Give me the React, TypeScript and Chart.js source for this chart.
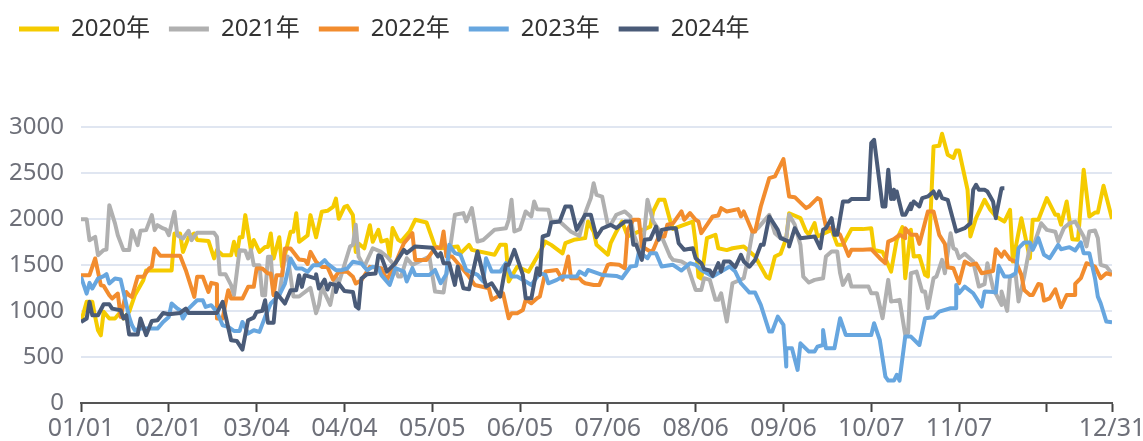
import React, { useEffect, useRef } from "react";
import { Chart, registerables } from "chart.js";

Chart.register(...registerables);

// [day of year index, value]
const series2020 = [[0,880],[2,1098],[4,1098],[5,935],[6,790],[7,735],[8,990],[10,917],[12,917],[14,990],[15,917],[17,990],[19,1170],[22,1333],[23,1440],[32,1440],[33,1840],[35,1840],[36,1640],[38,1800],[40,1840],[41,1770],[45,1760],[47,1570],[48,1660],[50,1605],[53,1605],[54,1750],[55,1605],[56,1800],[57,1800],[58,2040],[60,1660],[61,1770],[63,1640],[65,1695],[66,1695],[67,1840],[68,1570],[70,1800],[71,1480],[74,1860],[75,1860],[76,2060],[77,1750],[80,1820],[81,2040],[83,1800],[85,2076],[87,2087],[89,2130],[90,2220],[91,2000],[93,2130],[94,2140],[96,2040],[97,1640],[98,1730],[100,1680],[102,1930],[103,1750],[105,1880],[106,1753],[108,1772],[109,1590],[110,1900],[112,1772],[113,1753],[116,1862],[118,1989],[122,1960],[125,1700],[127,1680],[133,1700],[134,1625],[137,1717],[138,1663],[146,1610],[148,1717],[150,1717],[151,1320],[154,1480],[158,1425],[162,1640],[164,1752],[166,1717],[170,1625],[171,1735],[174,1772],[178,1790],[179,1970],[181,1860],[182,1717],[186,1610],[187,1735],[189,1860],[191,1970],[193,1810],[201,1915],[202,2080],[204,2206],[206,2206],[208,1980],[209,1890],[216,1970],[217,1735],[218,1370],[219,1350],[221,1790],[224,1827],[225,1680],[228,1660],[230,1680],[234,1700],[238,1590],[242,1370],[243,1350],[245,1590],[247,1620],[249,1790],[250,2060],[254,2008],[256,1863],[257,1827],[259,1953],[260,1808],[265,1880],[267,1717],[269,1717],[272,1888],[276,1888],[279,1898],[280,1663],[283,1640],[286,1427],[288,1771],[290,1909],[291,1355],[293,1880],[294,1590],[296,1597],[298,1391],[299,1373],[301,2786],[303,2793],[304,2924],[306,2695],[308,2660],[309,2741],[310,2741],[313,2315],[314,1808],[316,2007],[319,2206],[321,2098],[323,2025],[326,1970],[328,2098],[329,1536],[332,2007],[335,1572],[336,1989],[338,1989],[341,2225],[344,2043],[345,2043],[346,1936],[348,2188],[350,1779],[352,1772],[354,2533],[356,2025],[358,2068],[359,2068],[361,2358],[364,2000]];

const series2021 = [[0,1996],[2,1996],[3,1768],[5,1804],[6,1605],[8,1660],[9,1667],[10,2148],[12,1950],[13,1822],[15,1660],[17,1660],[18,1877],[20,1714],[21,1870],[23,1877],[25,2040],[26,1877],[27,1931],[29,1895],[30,1884],[31,1822],[33,2076],[34,1822],[36,1786],[38,1870],[39,1768],[41,1848],[47,1848],[48,1804],[49,1399],[51,1399],[53,1279],[54,1170],[56,1660],[58,1652],[59,1569],[60,1660],[61,1496],[63,1496],[64,1170],[65,1170],[66,1587],[67,1587],[68,1174],[70,1174],[72,1590],[73,1590],[75,1156],[77,1156],[81,1250],[83,975],[84,1065],[85,1264],[88,1065],[90,1373],[91,1300],[95,1699],[96,1717],[97,1935],[98,1590],[100,1480],[103,1680],[106,1640],[108,1591],[110,1518],[112,1373],[113,1373],[115,1572],[117,1500],[123,1591],[125,1210],[128,1199],[129,1400],[132,2044],[135,2062],[136,1971],[138,2116],[140,1753],[142,1770],[146,1880],[150,1897],[151,1989],[152,2207],[153,1862],[155,1888],[157,2080],[159,2025],[160,2188],[161,2105],[165,2098],[166,1971],[169,1971],[173,1860],[176,1815],[178,2062],[180,2225],[181,2387],[182,2260],[184,2241],[186,1934],[187,1934],[189,2044],[192,2080],[194,2025],[195,1844],[198,1591],[200,2207],[202,1971],[204,1880],[208,1591],[209,1554],[212,1536],[214,1500],[217,1228],[219,1228],[220,1355],[222,1337],[224,1120],[225,1120],[226,1192],[228,884],[230,1300],[234,1355],[235,1500],[237,1844],[239,1899],[243,2043],[245,1844],[247,1790],[249,1790],[250,2043],[252,1935],[254,1717],[255,1373],[257,1308],[259,1337],[262,1355],[263,1590],[265,1645],[267,1645],[268,1410],[269,1282],[271,1391],[272,1264],[278,1264],[279,1192],[281,1192],[283,920],[285,1337],[286,1101],[289,1120],[291,739],[292,760],[293,1409],[295,1427],[297,1210],[298,1210],[299,1029],[301,1355],[302,1373],[304,1554],[305,1409],[307,1844],[308,1681],[309,1663],[310,1572],[312,1620],[315,1536],[317,1264],[319,1290],[320,1518],[322,1246],[325,1065],[325,1210],[327,1000],[328,1373],[330,1390],[331,1101],[333,1373],[335,1700],[336,1680],[339,1952],[341,1880],[344,1860],[345,1754],[347,1899],[349,1952],[351,1970],[354,1808],[355,1700],[356,1862],[358,1873],[359,1790],[360,1500],[362,1482],[364,1402]];

const series2022 = [[0,1388],[3,1388],[5,1569],[7,1279],[8,1272],[10,1170],[11,1134],[13,1188],[14,935],[16,1206],[17,1170],[18,1152],[20,1370],[22,1370],[24,1460],[25,1478],[26,1677],[28,1598],[35,1598],[37,1442],[40,1152],[41,1370],[43,1370],[45,1206],[46,1304],[48,1290],[48,917],[50,917],[51,1080],[52,1225],[53,1134],[57,1134],[59,1261],[61,1261],[62,1460],[64,1460],[66,1406],[67,1406],[68,1170],[69,1388],[71,1388],[72,1677],[74,1677],[77,1558],[79,1551],[80,1510],[81,1641],[83,1533],[85,1478],[87,1478],[89,1340],[91,1424],[94,1424],[96,1370],[97,1297],[99,1333],[102,1478],[106,1464],[108,1337],[111,1518],[114,1735],[117,1844],[118,1554],[122,1554],[125,1685],[127,1685],[128,1862],[129,1590],[131,1590],[137,1373],[139,1282],[144,1246],[145,1120],[147,1155],[149,1191],[151,920],[152,975],[154,975],[156,1010],[157,1120],[159,1083],[161,1137],[162,1155],[164,1427],[168,1445],[170,1337],[172,1590],[173,1355],[176,1355],[177,1319],[178,1300],[181,1282],[183,1282],[186,1500],[187,1510],[190,1500],[192,1464],[193,1880],[195,1989],[197,1989],[198,1700],[201,1645],[202,1660],[204,1808],[206,1808],[207,1935],[209,1950],[212,2080],[213,1989],[215,2062],[217,1989],[218,1970],[219,1844],[221,1935],[223,2025],[225,2035],[226,2116],[228,2080],[232,2105],[233,2025],[234,2080],[237,1862],[238,1862],[240,2133],[243,2442],[245,2460],[248,2648],[250,2243],[252,2235],[256,2116],[257,2133],[260,2225],[261,2210],[263,1916],[266,1880],[268,1826],[271,1598],[272,1663],[276,1663],[279,1670],[282,1572],[284,1518],[285,1753],[287,1779],[289,1826],[291,1790],[291,1898],[293,1826],[295,1826],[296,1728],[299,2079],[301,2079],[303,1826],[305,1728],[306,1474],[308,1463],[310,1300],[312,1536],[314,1500],[316,1515],[318,1409],[321,1427],[322,1434],[323,1670],[325,1590],[326,1644],[328,1561],[330,1536],[332,1391],[333,1228],[335,1173],[336,1173],[338,1293],[339,1285],[340,1112],[342,1137],[344,1235],[346,1040],[348,1173],[351,1173],[351,1293],[353,1355],[355,1518],[358,1482],[360,1355],[362,1409],[364,1391]];

const series2023 = [[0,1370],[2,1188],[3,1304],[4,1243],[6,1351],[8,1377],[9,1399],[10,1297],[12,1351],[14,1340],[15,1206],[17,935],[18,844],[19,790],[21,808],[27,808],[29,880],[31,935],[32,1080],[34,1025],[35,1007],[36,917],[38,1025],[41,1116],[43,1116],[44,1043],[46,1062],[48,989],[50,844],[52,826],[54,783],[56,783],[57,880],[59,754],[61,790],[63,772],[65,935],[67,1080],[70,1170],[72,1297],[74,1569],[76,1460],[78,1460],[80,1424],[82,1496],[84,1496],[86,1551],[87,1514],[90,1442],[92,1442],[94,1460],[96,1533],[99,1514],[101,1442],[103,1478],[105,1470],[106,1391],[109,1282],[111,1464],[114,1427],[115,1319],[117,1464],[118,1391],[123,1391],[125,1445],[127,1300],[129,1400],[130,1717],[132,1627],[134,1608],[136,1445],[140,1391],[142,1319],[143,1572],[145,1427],[148,1427],[150,1518],[152,1373],[154,1373],[157,1319],[159,1282],[162,1409],[164,1391],[165,1300],[168,1337],[170,1373],[175,1373],[176,1427],[178,1391],[179,1445],[184,1391],[189,1380],[191,1355],[194,1482],[196,1489],[197,1645],[200,1572],[201,1627],[203,1627],[205,1482],[209,1500],[212,1438],[215,1518],[217,1500],[219,1445],[223,1373],[226,1427],[229,1482],[231,1427],[233,1300],[236,1199],[238,1199],[240,1065],[243,775],[244,775],[246,938],[248,848],[249,395],[249,594],[251,594],[253,359],[254,648],[257,558],[259,558],[260,612],[262,630],[262,793],[263,594],[266,594],[268,920],[270,739],[276,739],[279,739],[280,866],[282,685],[284,286],[285,243],[287,243],[288,305],[289,243],[291,721],[293,721],[296,630],[298,920],[301,930],[303,993],[307,1029],[309,1029],[309,1282],[310,1192],[312,1264],[315,1192],[318,1047],[319,1210],[322,1205],[323,1199],[324,1489],[326,1373],[328,1373],[330,1409],[331,1681],[333,1743],[335,1743],[336,1663],[338,1790],[340,1609],[342,1572],[345,1717],[346,1670],[349,1692],[351,1656],[353,1743],[354,1627],[356,1627],[358,1355],[359,1155],[360,1083],[362,884],[364,877]];

const series2024 = [[0,880],[2,917],[3,1098],[4,953],[6,953],[8,1072],[10,1072],[11,1025],[14,1007],[15,917],[16,953],[17,743],[20,743],[21,917],[23,736],[25,891],[27,899],[29,978],[31,964],[35,978],[37,1025],[38,978],[48,978],[50,1098],[51,953],[53,681],[55,674],[57,580],[59,899],[61,927],[62,989],[64,1000],[65,1116],[66,870],[68,870],[69,1195],[72,1080],[74,1225],[76,1225],[77,1388],[78,1261],[79,1388],[83,1351],[83,1399],[84,1243],[86,1340],[87,1232],[88,1297],[90,1279],[90,1206],[91,1297],[93,1217],[96,1206],[97,1051],[98,1025],[99,1351],[101,1399],[104,1406],[105,1605],[106,1591],[108,1427],[111,1518],[114,1663],[115,1627],[118,1700],[124,1685],[126,1591],[127,1627],[128,1518],[130,1518],[132,1282],[133,1482],[135,1246],[137,1235],[140,1645],[143,1264],[145,1300],[148,1155],[150,1500],[151,1500],[153,1663],[156,1391],[157,1137],[159,1137],[161,1464],[162,1391],[163,1808],[165,1827],[166,1960],[169,1971],[171,2134],[173,2134],[175,1880],[178,2044],[180,2044],[182,1800],[184,1895],[187,1934],[189,1899],[192,1970],[194,1970],[195,1717],[196,1717],[198,1554],[199,1772],[201,1780],[203,1916],[204,1772],[205,1880],[208,1898],[210,1898],[211,1735],[213,1663],[216,1681],[217,1572],[219,1518],[220,1453],[222,1438],[223,1380],[225,1518],[226,1427],[227,1536],[229,1536],[231,1475],[233,1608],[234,1536],[236,1480],[238,1554],[240,1717],[241,1717],[243,2025],[246,1880],[247,1790],[250,1753],[250,1700],[252,1898],[254,1790],[259,1808],[261,1681],[262,1880],[263,1897],[265,2007],[266,1826],[267,1826],[269,2188],[271,2188],[272,2214],[278,2214],[279,2822],[280,2858],[283,2134],[284,2134],[285,2532],[286,2214],[287,2315],[287,2214],[288,2297],[290,2043],[291,2043],[293,2163],[293,2105],[294,2188],[296,2134],[297,2225],[299,2243],[301,2297],[302,2225],[303,2297],[304,2225],[306,2206],[309,1862],[312,1898],[314,1952],[315,2315],[316,2369],[317,2315],[319,2315],[320,2297],[322,2188],[323,2007],[323,2020],[325,2333],[326,2333]];

const tickDays = [0, 31, 62, 93, 124, 155, 186, 217, 248, 279, 310, 341, 364];
const tickLabels = ["01/01", "02/01", "03/04", "04/04", "05/05", "06/05", "07/06", "08/06", "09/06", "10/07", "11/07", "", "12/31"];
const yTicks = [0, 500, 1000, 1500, 2000, 2500, 3000];
const seriesNames = ["2020年", "2021年", "2022年", "2023年", "2024年"];
const seriesColors = ["#F5CB00", "#B0B0B0", "#F28C2E", "#67A6DF", "#4A5B78"];
const allSeries = [series2020, series2021, series2022, series2023, series2024];

const FONT = '"Noto Sans", "Noto Sans CJK SC", sans-serif';

const legendSpace = {
  id: "legendSpace",
  beforeLayout(c: any) {
    const lg = c.legend;
    if (lg && !lg._spaced) {
      lg._spaced = true;
      const fit = lg.fit;
      lg.fit = function () {
        fit.call(this);
        this.height = 128.7;
      };
    }
  },
};

export default function App() {
  const ref = useRef<HTMLCanvasElement | null>(null);
  useEffect(() => {
    const chart = new Chart(ref.current as HTMLCanvasElement, {
      type: "line",
      data: {
        datasets: allSeries.map((s, i) => ({
          label: seriesNames[i],
          data: s.map(([x, y]) => ({ x, y })),
          borderColor: seriesColors[i],
          backgroundColor: seriesColors[i],
          borderWidth: 4,
          pointRadius: 0,
          tension: 0,
          borderJoinStyle: "round",
          order: allSeries.length - i,
        })),
      },
      plugins: [legendSpace],
      options: {
        animation: false,
        responsive: false,
        events: [],
        layout: { padding: { top: -2, right: 31, left: 0, bottom: 0 } },
        plugins: {
          tooltip: { enabled: false },
          legend: {
            position: "top",
            align: "start",
            labels: {
              boxWidth: 40,
              boxHeight: 5,
              padding: 19,
              color: "#333333",
              font: { family: FONT, size: 24 },
              sort: (a: any, b: any) => a.datasetIndex - b.datasetIndex,
              generateLabels: (c: any) =>
                (Chart.defaults.plugins.legend.labels as any).generateLabels(c).map((l: any) => ({ ...l, lineWidth: 0 })),
            },
          },
        },
        scales: {
          x: {
            type: "linear",
            min: 0,
            max: 364,
            afterBuildTicks: (s: any) => {
              s.ticks = tickDays.map((value) => ({ value }));
            },
            afterFit: (s: any) => {
              s.height = 38;
              s.paddingLeft = 0;
              s.paddingRight = 0;
            },
            border: { display: true, color: "#555555", width: 2 },
            grid: { drawOnChartArea: false, drawTicks: true, tickLength: 9, tickColor: "#444444", tickWidth: 2 },
            ticks: {
              autoSkip: false,
              maxRotation: 0,
              minRotation: 0,
              padding: 2,
              color: "#6E7079",
              font: { family: FONT, size: 25 },
              callback: (v: any) => tickLabels[tickDays.indexOf(Number(v))] ?? "",
            },
          },
          y: {
            type: "linear",
            min: 0,
            max: 3000,
            afterBuildTicks: (s: any) => {
              s.ticks = yTicks.map((value) => ({ value }));
            },
            afterFit: (s: any) => {
              s.width = 81;
            },
            border: { display: false },
            grid: { color: "#E0E6F1", lineWidth: 2, drawTicks: false },
            ticks: {
              padding: 17,
              color: "#6E7079",
              font: { family: FONT, size: 24 },
              callback: (v: any) => String(v),
            },
          },
        },
      },
    } as any);
    return () => chart.destroy();
  }, []);
  return (
    <div style={{ position: "absolute", left: 0, top: 0, width: 1143, height: 441 }}>
      <canvas ref={ref} width={1143} height={441} style={{ display: "block" }} />
    </div>
  );
}
